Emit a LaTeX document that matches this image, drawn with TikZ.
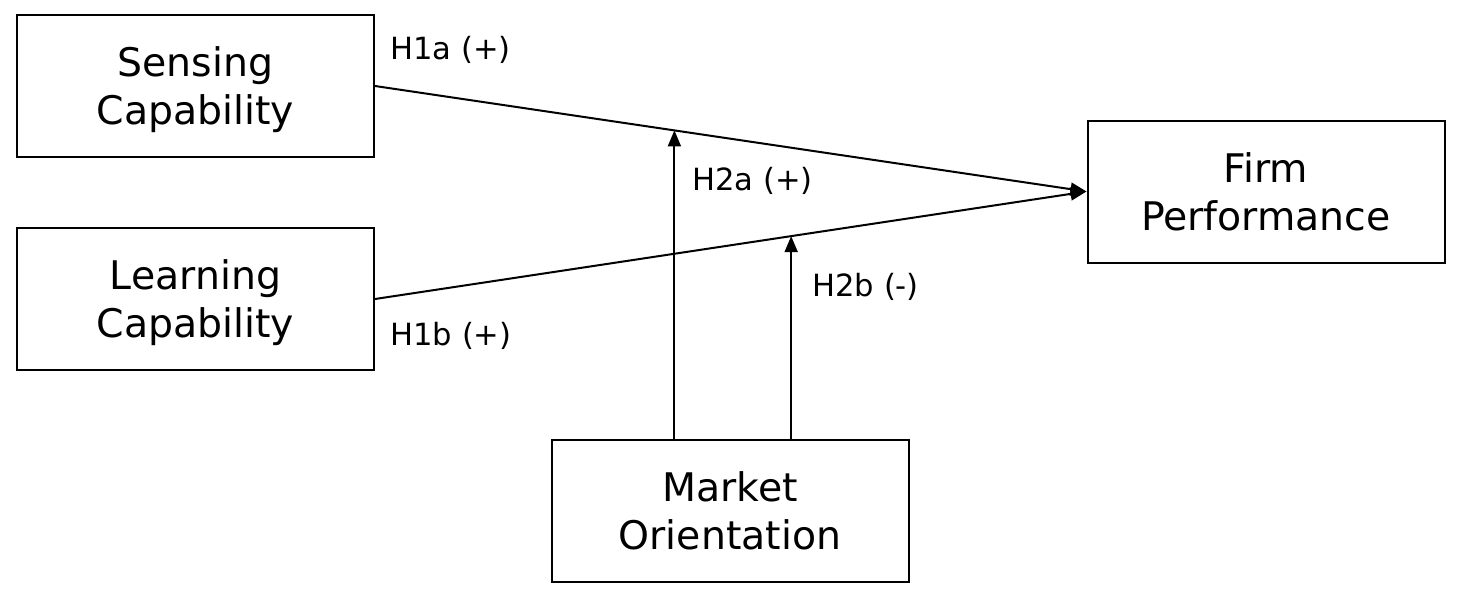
\documentclass[tikz,border=0pt]{standalone}
\usepackage{fontspec}
\setmainfont{DejaVu Sans}
\usetikzlibrary{calc,arrows.meta}
\begin{document}
\begin{tikzpicture}[x=0.5pt,y=-0.5pt,
  box/.style={draw,line width=1pt,inner sep=0pt,minimum width=178.5pt,minimum height=71pt,align=center,text depth=0pt,font=\fontsize{19.7}{24}\selectfont},
  lbl/.style={anchor=west,inner sep=0pt,font=\fontsize{15.3}{18}\selectfont},
  arr/.style={line width=1pt,-{Triangle[length=8pt,width=6.5pt]}}]
\useasboundingbox (0,0) rectangle (1457,594);
\node[box] (sense) at (195.5,86) {Sensing\\Capability};
\node[box] (learn) at (195.5,299) {Learning\\Capability};
\node[box] (firm) at (1266,191.5) {Firm\\Performance};
\node[box] (market) at (730,511) {Market\\Orientation};
\draw[arr] (sense.east) -- (firm.west);
\draw[arr] (learn.east) -- (firm.west);
\coordinate (m1) at ($(sense.east)!0.4208!(firm.west)$);
\coordinate (m2) at ($(learn.east)!0.5849!(firm.west)$);
\draw[arr] (market.north -| m1) -- (m1);
\draw[arr] (market.north -| m2) -- (m2);
\node[lbl] (h1a) at (390,50) {H1a (+)};
\node[lbl] (h1b) at (390,336) {H1b (+)};
\node[lbl] (h2a) at (692,181) {H2a (+)};
\node[lbl] (h2b) at (812,287) {H2b (-)};
\end{tikzpicture}
\end{document}
